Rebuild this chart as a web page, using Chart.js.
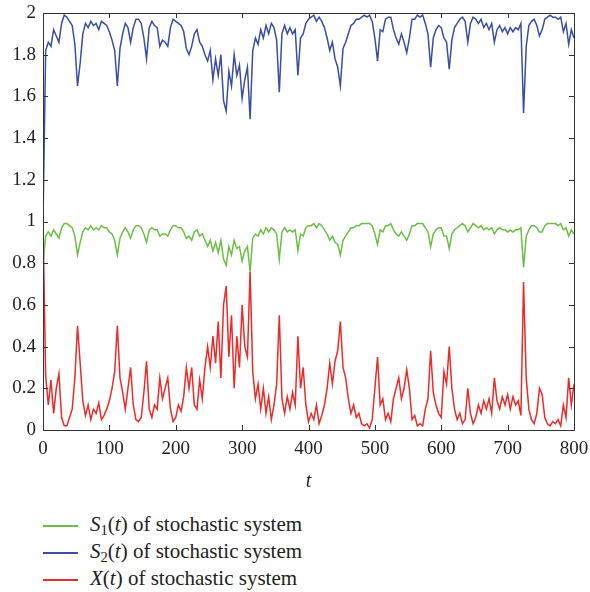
<!DOCTYPE html>
<html>
<head>
<meta charset="utf-8">
<script src="https://cdn.jsdelivr.net/npm/chart.js@4.4.1/dist/chart.umd.min.js"></script>
<style>
  html,body{margin:0;padding:0;background:#fff;}
  #wrap{position:relative;width:590px;height:592px;overflow:hidden;}
  #c{position:absolute;left:0;top:0;}
  .leg{position:absolute;left:43px;height:20px;font-family:"Liberation Serif","Times New Roman",serif;font-size:21px;color:#222;white-space:nowrap;}
  .leg .ln{position:absolute;left:0;top:9px;width:35px;height:1.5px;}
  .leg .tx{position:absolute;left:47px;top:-4px;line-height:24px;}
  .leg sub{font-size:70%;vertical-align:-0.3em;line-height:0;}
</style>
</head>
<body>
<div id="wrap">
  <canvas id="c" width="590" height="500"></canvas>
  <div class="leg" style="top:516px"><span class="ln" style="background:#6cbf44"></span><span class="tx"><i>S</i><sub>1</sub>(<i>t</i>) of stochastic system</span></div>
  <div class="leg" style="top:543px"><span class="ln" style="background:#3a4ea3"></span><span class="tx"><i>S</i><sub>2</sub>(<i>t</i>) of stochastic system</span></div>
  <div class="leg" style="top:570px"><span class="ln" style="background:#ec2a2a"></span><span class="tx"><i>X</i>(<i>t</i>) of stochastic system</span></div>
</div>
<script>
// time points (t)
const tValues = [
  0,4,8,12,16,20,24,28,32,36,40,44,48,52,56,60,64,68,72,76,80,84,88,92,96,
  100,104,108,112,116,120,124,128,132,136,140,144,148,152,156,160,164,168,172,176,180,184,188,192,196,
  200,204,208,212,216,220,224,228,232,236,240,244,248,252,256,260,264,268,272,276,280,284,288,292,296,
  300,304,308,312,316,320,324,328,332,336,340,344,348,352,356,360,364,368,372,376,380,384,388,392,396,
  400,404,408,412,416,420,424,428,432,436,440,444,448,452,456,460,464,468,472,476,480,484,488,492,496,
  500,504,508,512,516,520,524,528,532,536,540,544,548,552,556,560,564,568,572,576,580,584,588,592,596,
  600,604,608,612,616,620,624,628,632,636,640,644,648,652,656,660,664,668,672,676,680,684,688,692,696,
  700,704,708,712,716,720,724,728,732,736,740,744,748,752,756,760,764,768,772,776,780,784,788,792,796,
  800
];
// S1(t)
const s1Values = [
  0.80,0.93,0.95,0.93,0.96,0.94,0.92,0.97,0.99,0.99,0.98,0.97,0.93,0.84,0.90,0.95,0.97,0.96,0.98,0.96,0.97,0.96,0.98,0.97,0.97,
  0.95,0.94,0.91,0.84,0.92,0.95,0.97,0.95,0.92,0.96,0.98,0.98,0.97,0.94,0.90,0.96,0.97,0.96,0.96,0.93,0.94,0.94,0.93,0.96,0.98,
  0.98,0.97,0.97,0.95,0.92,0.93,0.91,0.95,0.96,0.93,0.94,0.91,0.88,0.91,0.86,0.90,0.85,0.91,0.82,0.79,0.88,0.84,0.91,0.87,0.88,
  0.81,0.86,0.88,0.76,0.92,0.94,0.93,0.96,0.94,0.97,0.95,0.97,0.96,0.94,0.82,0.95,0.97,0.95,0.96,0.95,0.96,0.86,0.94,0.93,0.97,
  0.98,0.98,0.99,0.97,0.99,0.98,0.96,0.94,0.91,0.93,0.90,0.89,0.84,0.91,0.93,0.95,0.97,0.97,0.98,0.98,0.99,0.99,0.99,0.99,0.98,
  0.94,0.89,0.96,0.95,0.98,0.98,0.99,0.96,0.94,0.93,0.95,0.93,0.91,0.94,0.98,0.98,0.99,0.99,0.99,0.97,0.95,0.88,0.94,0.96,0.97,
  0.97,0.93,0.93,0.87,0.94,0.96,0.97,0.98,0.99,0.98,0.95,0.97,0.99,0.98,0.97,0.98,0.96,0.97,0.96,0.97,0.94,0.96,0.97,0.96,0.96,
  0.95,0.96,0.95,0.96,0.96,0.97,0.78,0.93,0.96,0.98,0.98,0.97,0.95,0.95,0.98,0.99,0.99,0.99,0.99,0.98,0.99,0.96,0.97,0.93,0.96,
  0.94
];
// S2(t)
const s2Values = [
  1.00,1.82,1.86,1.84,1.92,1.89,1.86,1.95,1.99,1.98,1.96,1.94,1.85,1.65,1.76,1.90,1.95,1.93,1.96,1.94,1.95,1.92,1.96,1.95,1.94,
  1.91,1.87,1.82,1.65,1.83,1.90,1.95,1.93,1.86,1.93,1.97,1.97,1.95,1.88,1.78,1.93,1.96,1.94,1.93,1.84,1.87,1.86,1.84,1.93,1.97,
  1.96,1.95,1.94,1.91,1.83,1.80,1.84,1.90,1.92,1.86,1.84,1.80,1.77,1.82,1.68,1.78,1.70,1.80,1.58,1.53,1.72,1.65,1.80,1.70,1.75,
  1.59,1.68,1.74,1.49,1.82,1.88,1.85,1.92,1.88,1.94,1.90,1.95,1.93,1.87,1.62,1.90,1.94,1.90,1.93,1.90,1.92,1.70,1.88,1.90,1.95,
  1.97,1.98,1.99,1.96,1.98,1.96,1.93,1.88,1.82,1.86,1.78,1.74,1.65,1.83,1.86,1.90,1.94,1.95,1.97,1.97,1.98,1.99,1.98,1.99,1.96,
  1.88,1.77,1.92,1.91,1.97,1.98,1.98,1.92,1.88,1.85,1.90,1.86,1.81,1.88,1.97,1.97,1.99,1.98,1.99,1.95,1.90,1.74,1.88,1.92,1.94,
  1.93,1.88,1.86,1.73,1.87,1.93,1.95,1.97,1.98,1.96,1.86,1.95,1.98,1.97,1.95,1.97,1.93,1.95,1.92,1.95,1.86,1.92,1.94,1.91,1.93,
  1.90,1.93,1.91,1.93,1.92,1.95,1.52,1.84,1.94,1.96,1.97,1.94,1.89,1.92,1.97,1.98,1.99,1.98,1.98,1.97,1.98,1.91,1.95,1.85,1.92,
  1.88
];
// X(t)
const xValues = [
  1.00,0.26,0.12,0.24,0.08,0.20,0.27,0.06,0.02,0.02,0.06,0.10,0.25,0.50,0.32,0.14,0.07,0.12,0.05,0.10,0.08,0.13,0.05,0.07,0.10,
  0.14,0.20,0.28,0.50,0.25,0.18,0.10,0.20,0.30,0.12,0.05,0.04,0.06,0.18,0.33,0.10,0.06,0.12,0.10,0.25,0.15,0.20,0.25,0.10,0.04,
  0.06,0.12,0.09,0.16,0.30,0.20,0.30,0.12,0.10,0.24,0.15,0.30,0.40,0.30,0.45,0.32,0.52,0.25,0.60,0.69,0.35,0.55,0.20,0.45,0.30,
  0.60,0.40,0.35,0.76,0.28,0.15,0.22,0.10,0.20,0.08,0.16,0.05,0.12,0.22,0.55,0.15,0.08,0.16,0.10,0.18,0.12,0.45,0.20,0.30,0.12,
  0.04,0.08,0.05,0.12,0.03,0.07,0.12,0.20,0.32,0.22,0.33,0.38,0.52,0.30,0.25,0.15,0.08,0.12,0.06,0.08,0.03,0.02,0.03,0.01,0.05,
  0.20,0.35,0.12,0.15,0.05,0.08,0.04,0.15,0.20,0.25,0.15,0.20,0.29,0.20,0.05,0.07,0.02,0.03,0.02,0.10,0.15,0.38,0.18,0.12,0.08,
  0.06,0.28,0.22,0.40,0.20,0.10,0.05,0.08,0.03,0.05,0.20,0.08,0.03,0.06,0.12,0.08,0.14,0.10,0.15,0.08,0.25,0.14,0.10,0.16,0.12,
  0.17,0.10,0.16,0.12,0.14,0.07,0.71,0.25,0.10,0.05,0.03,0.08,0.20,0.17,0.06,0.03,0.02,0.04,0.03,0.05,0.02,0.12,0.06,0.25,0.12,
  0.22
];
const xTickLabels = ['0','100','200','300','400','500','600','700','800'];
const yTickLabels = ['0','0.2','0.4','0.6','0.8','1','1.2','1.4','1.6','1.8','2'];
const seriesNames = ['S1(t) of stochastic system','S2(t) of stochastic system','X(t) of stochastic system'];
const seriesColors = ['#6cbf44','#3a4ea3','#ec2a2a'];

const toPts = arr => arr.map((v,i)=>({x:tValues[i], y:v}));
const FONT = '"Liberation Serif","Times New Roman",serif';

const frame = {
  id:'frame',
  afterDatasetsDraw(chart){
    const {ctx, chartArea:{left,right,top,bottom}} = chart;
    const xs = chart.scales.x, ys = chart.scales.y;
    ctx.save();
    ctx.strokeStyle = '#333';
    ctx.lineWidth = 1;
    ctx.beginPath();
    ctx.rect(Math.round(left)+0.5, Math.round(top)+0.5, Math.round(right-left), Math.round(bottom-top));
    const L = 5;
    xs.ticks.forEach(t=>{
      const p = Math.round(xs.getPixelForValue(t.value))+0.5;
      ctx.moveTo(p, bottom); ctx.lineTo(p, bottom-L);
      ctx.moveTo(p, top); ctx.lineTo(p, top+L);
    });
    ys.ticks.forEach(t=>{
      const p = Math.round(ys.getPixelForValue(t.value))+0.5;
      ctx.moveTo(left, p); ctx.lineTo(left+L, p);
      ctx.moveTo(right, p); ctx.lineTo(right-L, p);
    });
    ctx.stroke();
    ctx.restore();
  }
};

new Chart(document.getElementById('c'), {
  type:'line',
  data:{
    datasets:[
      {label:seriesNames[0], data:toPts(s1Values), borderColor:seriesColors[0], borderWidth:1.5, pointRadius:0, tension:0},
      {label:seriesNames[1], data:toPts(s2Values), borderColor:seriesColors[1], borderWidth:1.5, pointRadius:0, tension:0},
      {label:seriesNames[2], data:toPts(xValues), borderColor:seriesColors[2], borderWidth:1.5, pointRadius:0, tension:0}
    ]
  },
  options:{
    responsive:false,
    animation:false,
    events:[],
    layout:{padding:{left:0,right:16,top:13,bottom:0}},
    plugins:{legend:{display:false}, tooltip:{enabled:false}},
    scales:{
      x:{
        type:'linear', min:0, max:800,
        grid:{display:false, drawTicks:false},
        border:{display:false},
        ticks:{stepSize:100, autoSkip:false, maxRotation:0, padding:8, color:'#222',
               font:{family:FONT, size:19},
               callback:(v,i)=>xTickLabels[i]},
        title:{display:true, text:'t', color:'#222', font:{family:FONT, size:20, style:'italic'}, padding:{top:0,bottom:6}},
        afterFit:s=>{s.height = 70; s.paddingLeft = 0; s.paddingRight = 0;}
      },
      y:{
        type:'linear', min:0, max:2,
        grid:{display:false, drawTicks:false},
        border:{display:false},
        ticks:{stepSize:0.2, autoSkip:false, padding:7, color:'#222',
               font:{family:FONT, size:19},
               callback:(v,i)=>yTickLabels[i]},
        afterFit:s=>{s.width = 43; s.paddingTop = 0; s.paddingBottom = 0;}
      }
    }
  },
  plugins:[frame]
});
</script>
</body>
</html>
